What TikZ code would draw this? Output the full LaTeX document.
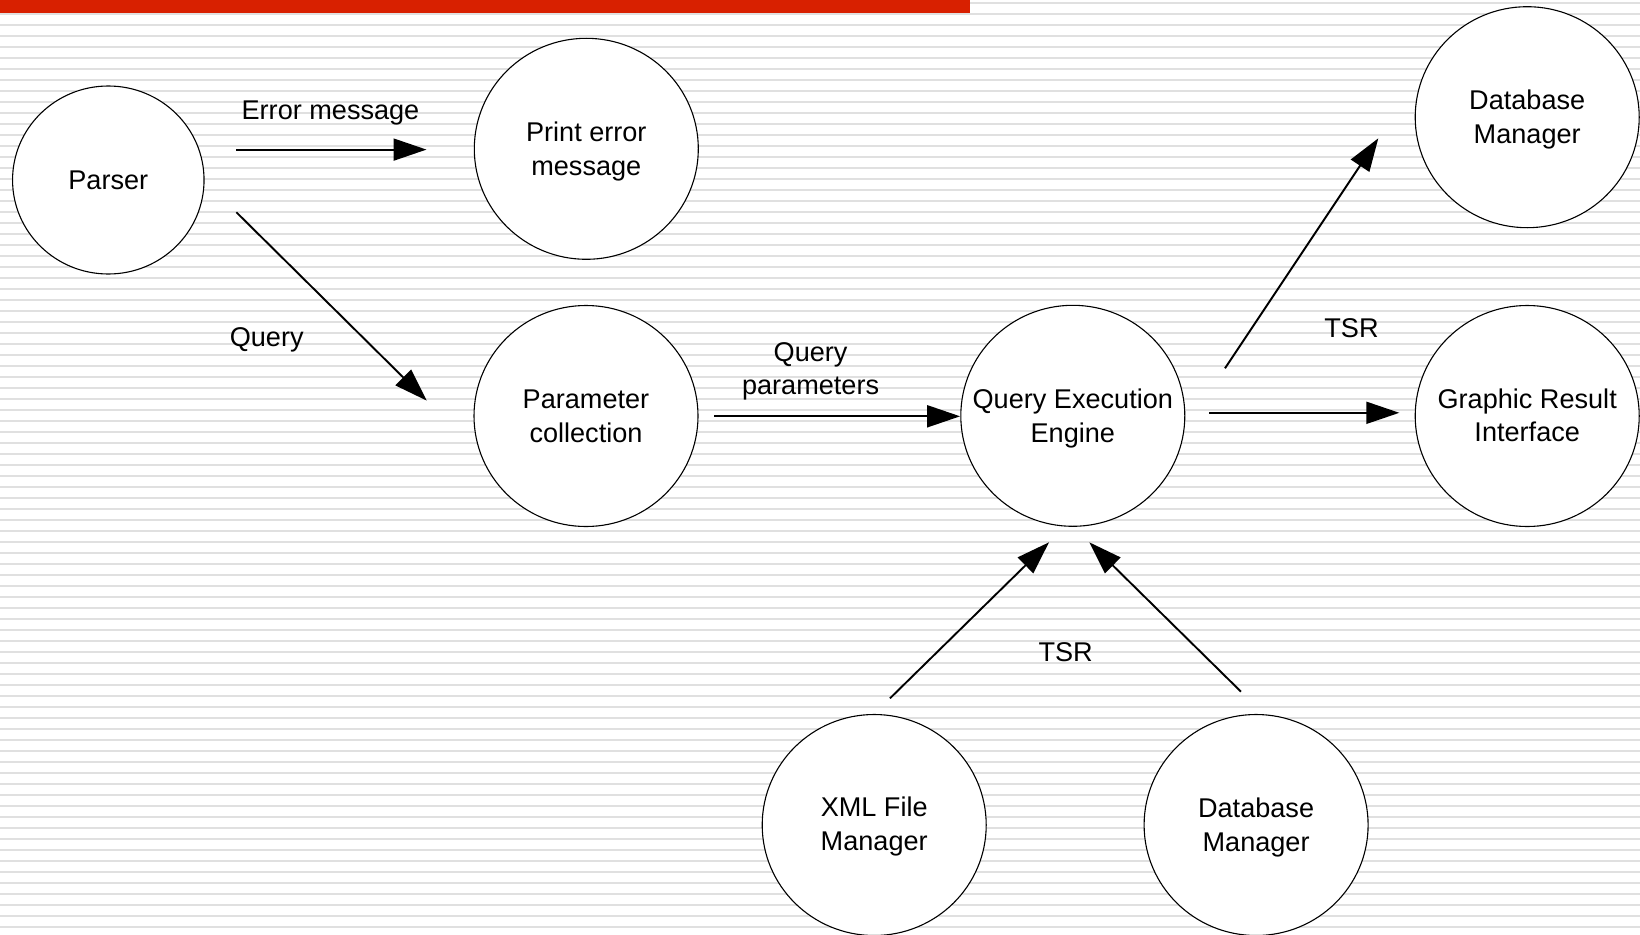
\documentclass[tikz,border=0pt]{standalone}
\usepackage{fontspec}
\setmainfont{Liberation Sans}
\usetikzlibrary{shapes.geometric,arrows.meta}
\definecolor{barred}{RGB}{216,32,0}
\definecolor{stripegray}{RGB}{224,224,224}
\begin{document}
\begin{tikzpicture}[x=1pt,y=-1pt,
  txt/.style={inner sep=0pt,align=center,font=\fontsize{27.1}{33.5}\selectfont},
  intxt/.style={txt,yshift=-2.5pt},
  bubble/.style={ellipse,draw=black,line width=1.1pt,fill=white,
    minimum width=224pt,minimum height=221pt,inner sep=0pt},
  small bubble/.style={bubble,minimum width=191.5pt,minimum height=188pt},
  flow/.style={line width=1.9pt,-{Triangle[length=33pt,width=22pt]}}]
\useasboundingbox (0,0) rectangle (1640,934);
% page background: white with thin grey rules and a red header bar
\fill[white] (0,0) rectangle (1640,934);
\foreach \k in {0,...,84}
  \fill[stripegray] (0,{2+11*\k}) rectangle (1640,{4.1+11*\k});
\fill[barred] (0,0) rectangle (970,12.7);

% processes
\node[small bubble,label={[intxt,yshift=2pt]center:Parser}] (parser) at (108.3,180) {};
\node[bubble,label={[intxt]center:Print error\\message}] (perr) at (586.3,148.8) {};
\node[bubble,label={[intxt]center:Database\\Manager}] (dbtop) at (1527.2,117.2) {};
\node[bubble,label={[intxt,yshift=2pt]center:Parameter\\collection}] (param) at (586,416) {};
\node[bubble,label={[intxt]center:Query Execution\\Engine}] (qee) at (1072.8,415.8) {};
\node[bubble,label={[intxt,yshift=3pt]center:Graphic Result\\Interface}] (gri) at (1527.2,416) {};
\node[bubble,label={[intxt,yshift=1pt]center:XML File\\Manager}] (xml) at (874.2,825) {};
\node[bubble,label={[intxt]center:Database\\Manager}] (dbbot) at (1256.1,825) {};

% flow labels
\node[txt] (lerr) at (330.5,112.8) {Error message};
\node[txt] (lquery) at (266.7,340) {Query};
\node[txt] (lparams) at (810.6,371.5) {Query\\parameters};
\node[txt] (ltsrtop) at (1351.5,328.5) {TSR};
\node[txt] (ltsrbot) at (1065.7,651.7) {TSR};

% connector end points
\coordinate (e1a) at (236.4,149.6);  \coordinate (e1b) at (426.5,149.6);
\coordinate (e2a) at (236.4,212.3);  \coordinate (e2b) at (426.7,400.6);
\coordinate (e3a) at (714.4,416.3);  \coordinate (e3b) at (960.1,416.3);
\coordinate (e4a) at (1209,412.8);   \coordinate (e4b) at (1399.3,412.8);
\coordinate (e5a) at (1225,368.3);   \coordinate (e5b) at (1378.3,138.3);
\coordinate (e6a) at (890,698.3);    \coordinate (e6b) at (1049,542.3);
\coordinate (e7a) at (1241,691.7);   \coordinate (e7b) at (1089.3,542.3);

% data flows
\draw[flow] (e1a) -- (e1b);
\draw[flow] (e2a) -- (e2b);
\draw[flow] (e3a) -- (e3b);
\draw[flow] (e4a) -- (e4b);
\draw[flow] (e5a) -- (e5b);
\draw[flow] (e6a) -- (e6b);
\draw[flow] (e7a) -- (e7b);
\end{tikzpicture}
\end{document}
